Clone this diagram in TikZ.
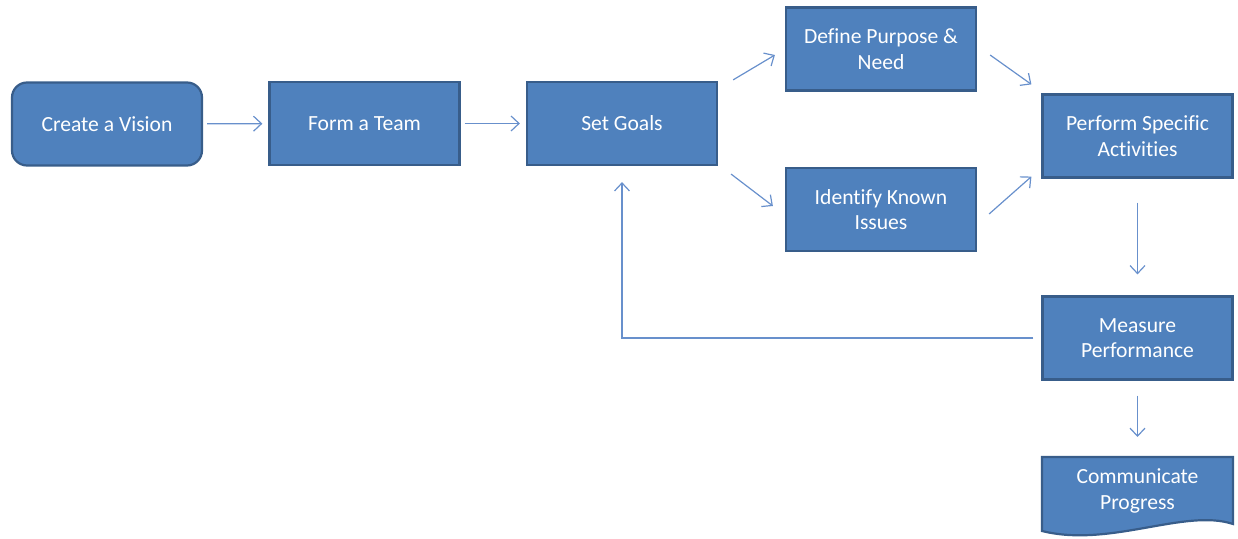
\documentclass[tikz,border=0pt]{standalone}
\usepackage{fontspec}
\setmainfont{Carlito}[Ligatures={NoCommon}]
\usetikzlibrary{arrows.meta}
\tikzset{>={Straight Barb[length=4pt,width=7.5pt]}}
\definecolor{clf}{HTML}{4F81BD}
\definecolor{cld}{HTML}{385D8A}
\definecolor{cla}{HTML}{6890CC}

\begin{document}
\begin{tikzpicture}[x=0.5pt, y=-0.5pt,
    box/.style={draw=cld, line width=1.1pt, fill=clf, text=white, minimum width=95pt,
        minimum height=41.5pt, align=center, inner sep=2pt, font=\fontsize{10.8}{12.8}\selectfont},
    arr/.style={->, draw=cla, line width=0.6pt}]
    \useasboundingbox(0, 0) rectangle (1238, 539);
    \node[box, rounded corners=7.5pt](vision) at (107, 124){Create a Vision};
    \node[box](team) at (364.5, 123.5){Form a Team};
    \node[box](goals) at (622, 123.5){Set Goals};
    \node[box](purpose) at (881, 49){Define Purpose \&\\Need};
    \node[box](issues) at (881, 209.5){Identify Known\\Issues};
    \node[box](perform) at (1137.5, 136){Perform Specific\\Activities};
    \node[box](measure) at (1137.5, 338){Measure\\Performance};
    \coordinate(pgtop) at (1137.5, 457);
    \draw[draw=cld, line width=1.1pt, fill=clf](1042, 457)--(1233, 457)--(1233, 524)
        .. controls (1185, 508) and (1110, 548) .. (1042, 531)--cycle;
    \node[box, draw=none, fill=none](progress) at (1137.5, 491){Communicate\\Progress};
    \draw[arr, shorten <=2pt, shorten >=3pt](vision)--(team);
    \draw[arr, shorten <=2pt, shorten >=3pt](team)--(goals);
    \draw[arr]([shift={(15, -1)}]goals.north east)--([shift={(-10, 6)}]purpose.west);
    \draw[arr]([shift={(13, 8)}]goals.south east)--([shift={(-12, -3.5)}]issues.west);
    \draw[arr]([shift={(13, 6)}]purpose.east)--([shift={(-10, -9)}]perform.north west);
    \draw[arr]([shift={(12, 4.5)}]issues.east)--([shift={(-10, -2)}]perform.south west);
    \draw[arr, shorten <=12pt, shorten >=10.5pt](perform)--(measure);
    \draw[arr, shorten <=7.5pt, shorten >=10pt](measure.south)--(pgtop);
    \draw[arr, shorten <=4pt, shorten >=8pt](measure.west)-|(goals.south);
\end{tikzpicture}
\end{document}
